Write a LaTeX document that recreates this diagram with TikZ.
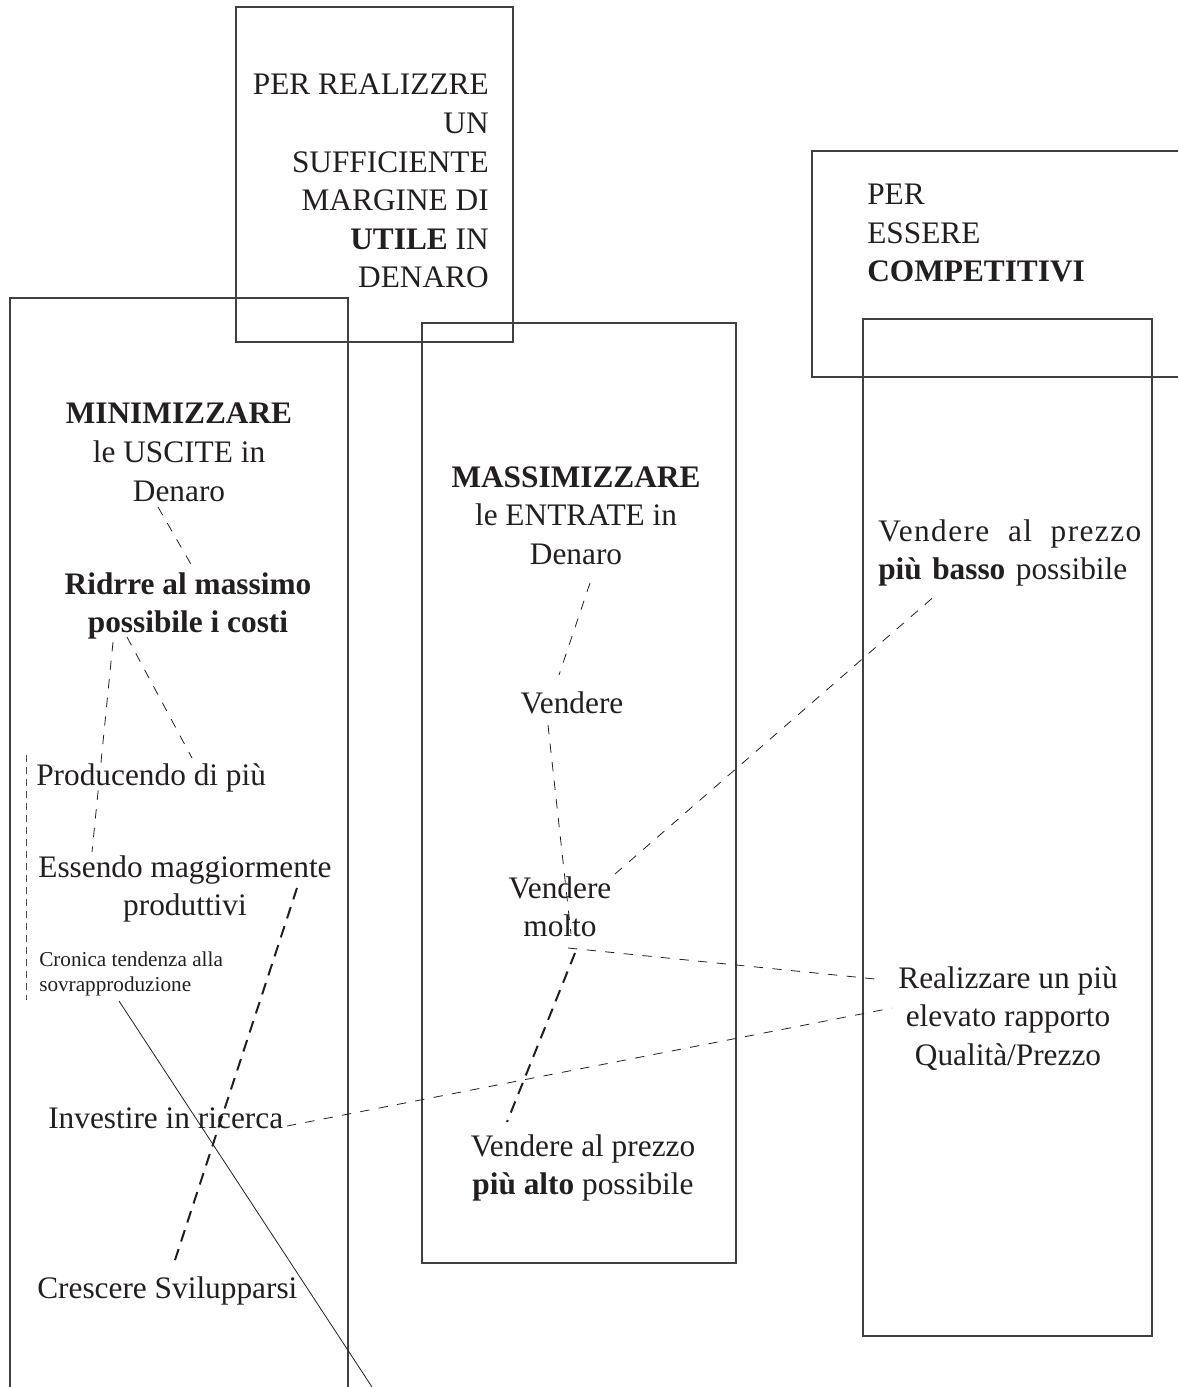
\documentclass[tikz,border=0pt]{standalone}
\usepackage{fontspec}
\setmainfont{Liberation Serif}
\usetikzlibrary{calc}
\definecolor{ink}{HTML}{231F20}
\definecolor{frame}{HTML}{404040}
\tikzset{
  txt/.style={font=\fontsize{23.5}{28.9}\selectfont, inner sep=0pt, text=ink},
  smalltxt/.style={font=\fontsize{15.9}{18.75}\selectfont, inner sep=0pt, text=ink},
  boxline/.style={draw=frame, line width=0.8pt},
  thinconn/.style={draw=ink, line width=0.6pt, dash pattern=on 7pt off 7pt},
  thickconn/.style={draw=ink, line width=1.5pt, dash pattern=on 9pt off 6pt},
  vconn/.style={draw=ink!80, line width=0.6pt, dash pattern=on 5pt off 4pt},
  solidconn/.style={draw=ink, line width=0.6pt}
}
\begin{document}
\begin{tikzpicture}[x=0.75pt,y=-0.75pt]
\useasboundingbox (0,0) rectangle (1178,1387);
\fill[white] (0,0) rectangle (1178,1387);

% frames
\draw[boxline] (236,7) rectangle (513,342);
\draw[boxline] (10,1387) -- (10,298) -- (348,298) -- (348,1387);
\draw[boxline] (422,323) rectangle (736,1263);
\draw[boxline] (1178,151) -- (812,151) -- (812,377) -- (1178,377);
\draw[boxline] (863,319) rectangle (1152,1336);

% texts
\node[txt, anchor=north east, align=right] (utile) at (489,74)
  {PER REALIZZRE\\UN\\SUFFICIENTE\\MARGINE DI\\\textbf{UTILE} IN\\DENARO};
\node[txt, anchor=north, align=center] (minim) at (179,403)
  {\textbf{MINIMIZZARE}\\le USCITE in\\Denaro};
\node[txt, anchor=north, align=center] (ridrre) at (188,572)
  {\textbf{Ridrre al massimo}\\\textbf{possibile i costi}};
\node[txt, anchor=base west] (prod) at (36,785) {Producendo di più};
\node[txt, anchor=north, align=center] (essendo) at (185,855)
  {Essendo maggiormente\\produttivi};
\node[smalltxt, anchor=north west, align=left] (cronica) at (39,952)
  {Cronica tendenza alla\\sovrapproduzione};
\node[txt, anchor=base west] (invest) at (48,1128) {Investire in ricerca};
\node[txt, anchor=base west] (cresc) at (37,1298) {Crescere Svilupparsi};

\node[txt, anchor=north, align=center] (massim) at (576,466)
  {\textbf{MASSIMIZZARE}\\le ENTRATE in\\Denaro};
\node[txt, anchor=base] (vend) at (572,713) {Vendere};
\node[txt, anchor=north, align=center] (molto) at (560,876) {Vendere\\molto};
\node[txt, anchor=north, align=center] (alto) at (583,1134)
  {Vendere al prezzo\\\textbf{più alto} possibile};

\node[txt, anchor=north west, align=left] (compet) at (867,184)
  {PER\\ESSERE\\\textbf{COMPETITIVI}};
\node[txt, anchor=north west, align=left, text width=197.25pt] (basso) at (878,519)
  {{\addfontfeature{LetterSpace=4.5}Vendere\hfill al\hfill prezzo}\\\textbf{più basso} possibile};
\node[txt, anchor=north, align=center] (realiz) at (1008,966)
  {Realizzare un più\\elevato rapporto\\Qualità/Prezzo};

\coordinate (bottomend) at (372,1387);

% connectors
\draw[thinconn] ($(minim.north)+(-21,104)$) -- ($(ridrre.north)+(4,-6)$);
\draw[thinconn] ($(ridrre.north)+(-75,70)$) -- ($(essendo.north)+(-93,-3)$);
\draw[thinconn] ($(ridrre.north)+(-61,65)$) -- ($(prod.base west)+(156,-27)$);
\draw[vconn] ($(prod.base west)+(-10,-30)$) -- ($(cronica.north west)+(-13,48)$);
\draw[thickconn] ($(essendo.north)+(112,33)$) -- ($(cresc.base west)+(138,-38)$);
\draw[thinconn] ($(massim.north)+(14,117)$) -- ($(vend.base)+(-13,-38)$);
\draw[thinconn] ($(vend.base)+(-24,12)$) -- ($(molto.north)+(11,58)$);
\draw[thinconn] ($(molto.north)+(55,-2)$) -- ($(basso.north west)+(59,75)$);
\draw[thinconn] ($(molto.north)+(8,72)$) -- ($(realiz.north)+(-133,13)$);
\draw[thickconn] ($(molto.north)+(15,77)$) -- ($(alto.north)+(-76,-12)$);
\draw[thinconn] ($(invest.base west)+(239,-2)$) -- ($(realiz.north)+(-116,42)$);
\draw[solidconn] ($(cronica.north west)+(80,49)$) -- (bottomend);
\end{tikzpicture}
\end{document}
